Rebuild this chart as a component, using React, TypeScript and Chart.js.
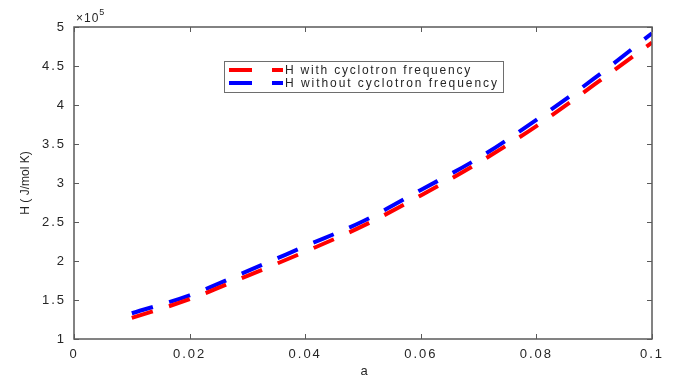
import React, { useEffect, useRef } from "react";
import { Chart, registerables } from "chart.js";

Chart.register(...registerables);

const aValues = [0.01, 0.02, 0.03, 0.04, 0.05, 0.06, 0.07, 0.08, 0.09, 0.1];
const hWith = [1.27, 1.51, 1.81, 2.12, 2.45, 2.84, 3.26, 3.73, 4.26, 4.8];
const hWithout = [1.33, 1.56, 1.87, 2.19, 2.51, 2.91, 3.32, 3.81, 4.34, 4.92];
const seriesLabels = ["H with cyclotron frequency", "H without cyclotron frequency"];
const xTitle = "a";
const yTitle = "H ( J/mol K)";
const exponentBase = "×10";
const exponentPower = "5";

const AXIS_COLOR = "#5a5a5a";
const TEXT_COLOR = "#262626";
const FONT = "'Liberation Sans', Arial, sans-serif";

const decorPlugin = {
  id: "decor",
  beforeDraw(chart: any) {
    chart.ctx.letterSpacing = "2px";
  },
  afterDraw(chart: any) {
    const ctx = chart.ctx;
    const { left, right, top, bottom } = chart.chartArea;
    const xs = chart.scales.x;
    const ys = chart.scales.y;
    ctx.save();
    ctx.letterSpacing = "0px";
    // box
    ctx.strokeStyle = AXIS_COLOR;
    ctx.lineWidth = 1.5;
    ctx.strokeRect(left, top, right - left, bottom - top);
    // inward ticks
    const tl = 5;
    ctx.lineWidth = 1;
    ctx.beginPath();
    xs.ticks.forEach((t: any) => {
      const px = Math.round(xs.getPixelForValue(t.value)) + 0.5;
      ctx.moveTo(px, bottom);
      ctx.lineTo(px, bottom - tl);
      ctx.moveTo(px, top);
      ctx.lineTo(px, top + tl);
    });
    ys.ticks.forEach((t: any) => {
      const py = Math.round(ys.getPixelForValue(t.value)) + 0.5;
      ctx.moveTo(left, py);
      ctx.lineTo(left + tl, py);
      ctx.moveTo(right, py);
      ctx.lineTo(right - tl, py);
    });
    ctx.stroke();

    ctx.fillStyle = TEXT_COLOR;
    ctx.textBaseline = "middle";

    // axis titles
    ctx.textAlign = "center";
    ctx.font = `13px ${FONT}`;
    ctx.letterSpacing = "0px";
    ctx.fillText(xTitle, (left + right) / 2 + 1, 371);
    ctx.save();
    ctx.translate(26, (top + bottom) / 2);
    ctx.rotate(-Math.PI / 2);
    ctx.font = `12px ${FONT}`;
    ctx.letterSpacing = "0px";
    ctx.fillText(yTitle, 0, 0);
    ctx.restore();

    // exponent label
    ctx.textAlign = "left";
    ctx.letterSpacing = "1px";
    ctx.font = `12px ${FONT}`;
    ctx.fillText(exponentBase, left + 2, top - 8);
    const w = ctx.measureText(exponentBase).width;
    ctx.font = `9px ${FONT}`;
    ctx.fillText(exponentPower, left + 2 + w, top - 14);

    // legend
    const lx = 224, ly = 61, lw = 279, lh = 31;
    ctx.fillStyle = "#ffffff";
    ctx.fillRect(lx, ly, lw, lh);
    ctx.strokeStyle = "#6e6e6e";
    ctx.lineWidth = 1;
    ctx.strokeRect(lx + 0.5, ly + 0.5, lw, lh);
    const colors = ["#ff0000", "#0000ff"];
    const rows = [ly + 9, ly + 22];
    ctx.font = `12px ${FONT}`;
    seriesLabels.forEach((label, i) => {
      ctx.strokeStyle = colors[i];
      ctx.lineWidth = 4;
      ctx.beginPath();
      ctx.moveTo(lx + 5, rows[i]);
      ctx.lineTo(lx + 28, rows[i]);
      ctx.moveTo(lx + 48, rows[i]);
      ctx.lineTo(lx + 59, rows[i]);
      ctx.stroke();
      ctx.letterSpacing = "0px";
      const natural = ctx.measureText(label).width;
      const target = i === 0 ? 187 : 214;
      const sp = Math.max(0, (target - natural) / label.length);
      ctx.letterSpacing = `${sp}px`;
      ctx.fillStyle = TEXT_COLOR;
      ctx.fillText(label, lx + 61, rows[i] + 1);
    });
    ctx.restore();
  },
};

export default function App() {
  const ref = useRef<HTMLCanvasElement>(null);
  useEffect(() => {
    if (!ref.current) return;
    const chart = new Chart(ref.current, {
      type: "line",
      data: {
        datasets: [
          {
            label: seriesLabels[0],
            data: aValues.map((a, i) => ({ x: a, y: hWith[i] })),
            borderColor: "#ff0000",
            borderWidth: 4,
            borderDash: [22, 17],
            pointRadius: 0,
            cubicInterpolationMode: "monotone",
            fill: false,
          },
          {
            label: seriesLabels[1],
            data: aValues.map((a, i) => ({ x: a, y: hWithout[i] })),
            borderColor: "#0000ff",
            borderWidth: 4,
            borderDash: [22, 17],
            pointRadius: 0,
            cubicInterpolationMode: "monotone",
            fill: false,
          },
        ],
      },
      options: {
        responsive: false,
        animation: false,
        devicePixelRatio: 1,
        layout: { autoPadding: false, padding: { top: 27, right: 23, left: 0, bottom: 0 } },
        plugins: { legend: { display: false }, tooltip: { enabled: false } },
        scales: {
          x: {
            type: "linear",
            min: 0,
            max: 0.1,
            grid: { display: false, drawTicks: false },
            border: { display: false },
            ticks: {
              stepSize: 0.02,
              padding: 8,
              color: TEXT_COLOR,
              font: { family: FONT, size: 13 },
              maxRotation: 0,
              callback: (v: any) => String(Number(Number(v).toFixed(2))),
            },
            title: { display: false },
            afterFit: (s: any) => {
              s.height = 39;
            },
          },
          y: {
            type: "linear",
            min: 1,
            max: 5,
            grid: { display: false, drawTicks: false },
            border: { display: false },
            ticks: {
              stepSize: 0.5,
              padding: 8,
              color: TEXT_COLOR,
              font: { family: FONT, size: 13 },
              callback: (v: any) => String(Number(Number(v).toFixed(1))),
            },
            title: { display: false },
            afterFit: (s: any) => {
              s.width = 74;
            },
          },
        },
      },
      plugins: [decorPlugin],
    } as any);
    return () => chart.destroy();
  }, []);
  return (
    <canvas
      ref={ref}
      width={675}
      height={378}
      style={{ position: "absolute", left: 0, top: 0, width: 675, height: 378 }}
    />
  );
}
